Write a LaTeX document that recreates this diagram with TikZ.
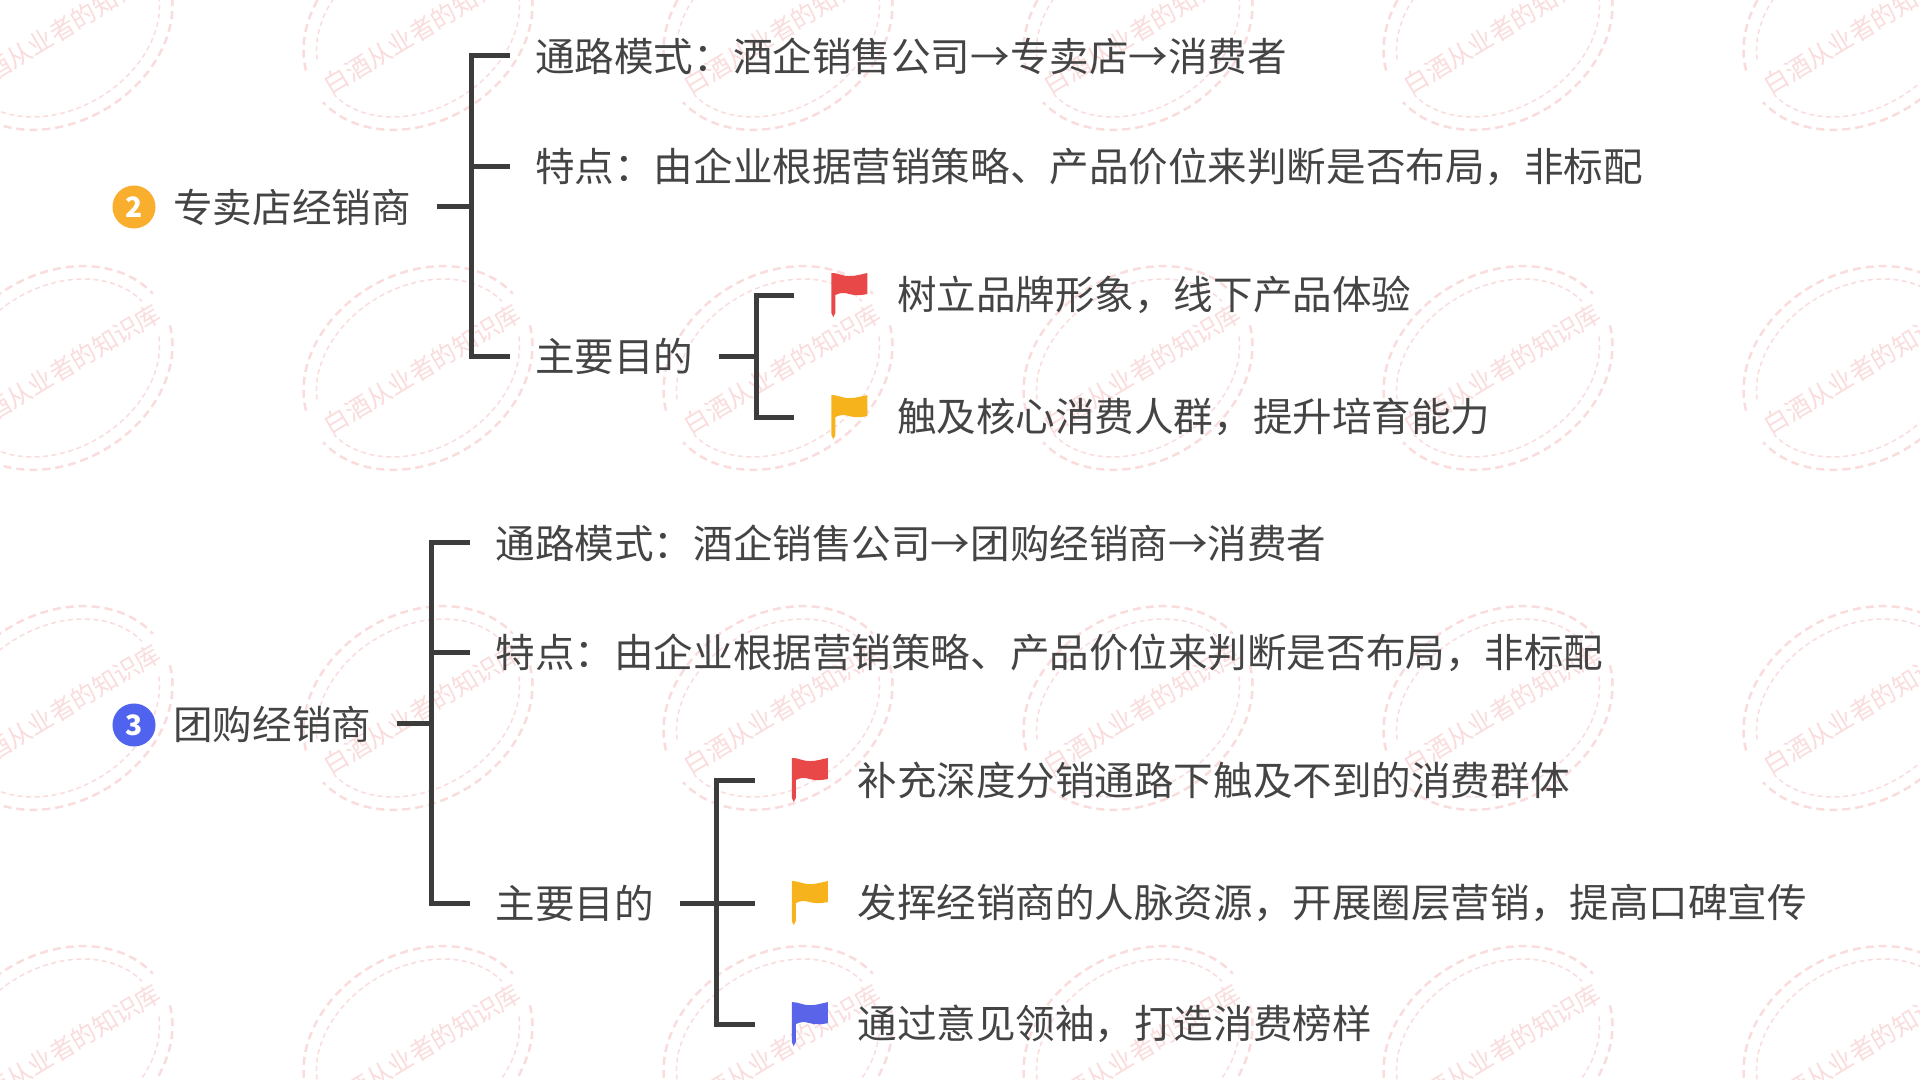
\documentclass[tikz,border=0pt]{standalone}
\usepackage{fontspec}
\setmainfont{Noto Sans CJK SC}
\usetikzlibrary{positioning}
\definecolor{inkgray}{HTML}{444444}
\definecolor{linegray}{HTML}{3C3C3C}
\definecolor{stamppink}{HTML}{FADCDC}
\definecolor{flagred}{HTML}{E84848}
\definecolor{flagyellow}{HTML}{F6B31C}
\definecolor{flagblue}{HTML}{5A64E8}
\definecolor{badgeorange}{HTML}{F9AE2D}
\definecolor{badgeblue}{HTML}{4F63EE}
\tikzset{
	label/.style={text=inkgray,inner xsep=.25cm,inner ysep=0,font=\fontsize{11.25}{13}\selectfont},
	aim/.style={text=inkgray,inner sep=0,font=\fontsize{11.25}{13}\selectfont},
	badge/.style={circle,fill=#1,text=white,inner sep=0,minimum size=.43cm,font=\fontsize{8}{9}\selectfont\bfseries},
	branch/.style={line width=.05cm,color=linegray},
	elbow/.style={to path={|- (\tikztotarget)}},
	twig/.style={elbow,shorten >=.37cm},
	flagicon/.style={inner sep=0,outer sep=0,minimum width=.36cm,minimum height=.44cm,path picture={
		\fill[#1]
			(-18,-22) .. controls (-10,-22) and (-8,-19) .. (0,-19) .. controls (8,-19) and (12,-21) .. (18,-22)
			-- (18,-1) .. controls (12,0) and (8,1) .. (0,-1) .. controls (-6,-3) and (-10,-2) .. (-14,0)
			-- (-14,18) -- (-16,22) -- (-18,18) -- cycle;}},
	stampouter/.style={stamppink,line width=.025cm,dash pattern=on .08cm off .05cm},
	stampinner/.style={stamppink,line width=.015cm,dash pattern=on .05cm off .035cm},
}
\begin{document}
\begin{tikzpicture}[x=.01cm,y=-.01cm]
	\useasboundingbox (0,0) rectangle (1920,1080);

	\foreach \cx in {58,418,778,1138,1498,1858}
		\foreach \cy in {28,368,708,1048} {
			\begin{scope}[shift={(\cx,\cy)},rotate=31]
				\draw[stampouter] (13:121 and 94) arc[start angle=13,end angle=171,x radius=121,y radius=94];
				\draw[stampouter] (193:121 and 94) arc[start angle=193,end angle=351,x radius=121,y radius=94];
				\draw[stampinner] (18:108 and 81) arc[start angle=18,end angle=170,x radius=108,y radius=81];
				\draw[stampinner] (198:108 and 81) arc[start angle=198,end angle=350,x radius=108,y radius=81];
				\node[text=stamppink,inner sep=0,transform shape,font=\fontsize{7.1}{8}\selectfont] (stamp-\cx-\cy) at (3,3) {白酒从业者的知识库};
			\end{scope}
		}

	\node[badge=badgeorange] (badge2) at (134,207) {2};
	\node[label,right=-.085cm of badge2] (root2) {专卖店经销商};
	\coordinate[right=.35cm of root2] (trunk2);
	\node[label,right=.38cm of trunk2,yshift=1.51cm] (path2) {通路模式：酒企销售公司→专卖店→消费者};
	\node[label,right=.38cm of trunk2,yshift=.4cm] (trait2) {特点：由企业根据营销策略、产品价位来判断是否布局，非标配};
	\node[label,right=.38cm of trunk2,yshift=-1.49cm] (goal2) {主要目的};
	\coordinate[right=.37cm of goal2] (fork2);
	\node[flagicon=flagred,right=.75cm of fork2,yshift=.61cm] (flag2a) {};
	\node[flagicon=flagyellow,right=.75cm of fork2,yshift=-.61cm] (flag2b) {};
	\node[aim,right=.29cm of flag2a] (aim2a) {树立品牌形象，线下产品体验};
	\node[aim,right=.29cm of flag2b] (aim2b) {触及核心消费人群，提升培育能力};

	\node[badge=badgeblue] (badge3) at (134,725) {3};
	\node[label,right=-.085cm of badge3,yshift=.01cm] (root3) {团购经销商};
	\coordinate[right=.35cm of root3] (trunk3);
	\node[label,right=.38cm of trunk3,yshift=1.81cm] (path3) {通路模式：酒企销售公司→团购经销商→消费者};
	\node[label,right=.38cm of trunk3,yshift=.71cm] (trait3) {特点：由企业根据营销策略、产品价位来判断是否布局，非标配};
	\node[label,right=.38cm of trunk3,yshift=-1.79cm] (goal3) {主要目的};
	\coordinate[right=.37cm of goal3] (fork3);
	\node[flagicon=flagred,right=.75cm of fork3,yshift=1.23cm] (flag3a) {};
	\node[flagicon=flagyellow,right=.75cm of fork3] (flag3b) {};
	\node[flagicon=flagblue,right=.75cm of fork3,yshift=-1.21cm] (flag3c) {};
	\node[aim,right=.29cm of flag3a] (aim3a) {补充深度分销通路下触及不到的消费群体};
	\node[aim,right=.29cm of flag3b] (aim3b) {发挥经销商的人脉资源，开展圈层营销，提高口碑宣传};
	\node[aim,right=.29cm of flag3c] (aim3c) {通过意见领袖，打造消费榜样};

	\path[draw,branch]
		(root2) edge (trunk2)
		(trunk2) edge[elbow] (path2.west)
		(trunk2) edge[elbow] (trait2.west)
		(trunk2) edge[elbow] (goal2.west)

		(goal2) edge (fork2)
		(fork2) edge[twig] (flag2a.west)
		(fork2) edge[twig] (flag2b.west)

		(root3) edge (trunk3)
		(trunk3) edge[elbow] (path3.west)
		(trunk3) edge[elbow] (trait3.west)
		(trunk3) edge[elbow] (goal3.west)

		(goal3) edge (fork3)
		(fork3) edge[twig] (flag3a.west)
		(fork3) edge[twig] (flag3b.west)
		(fork3) edge[twig] (flag3c.west);

\end{tikzpicture}
\end{document}
